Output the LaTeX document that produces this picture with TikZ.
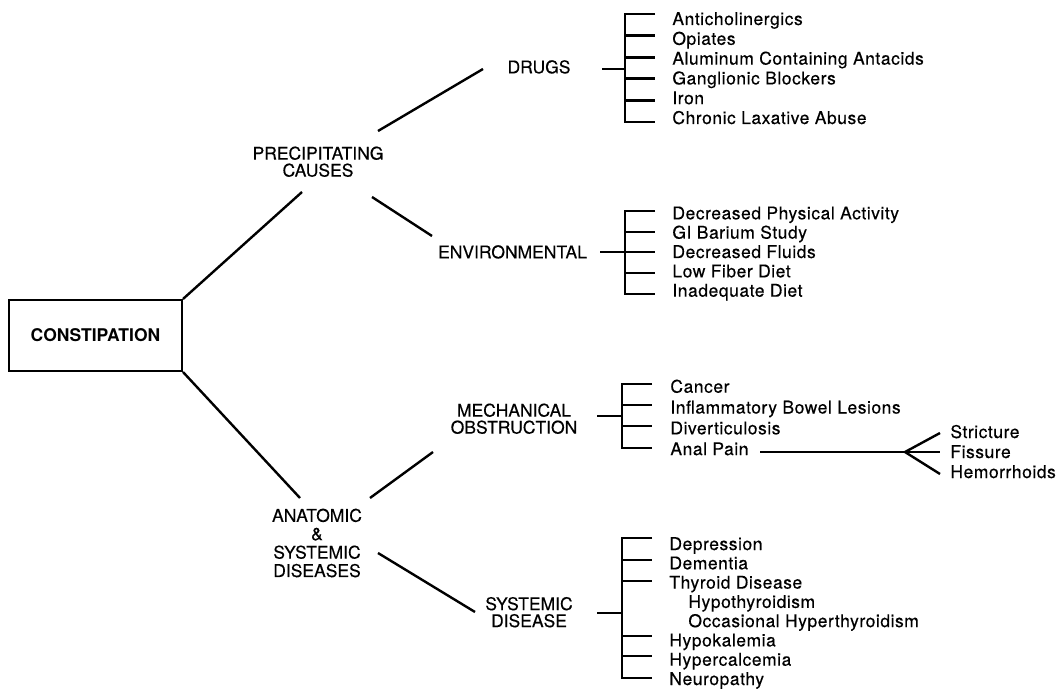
\documentclass[tikz,border=0pt]{standalone}
\usepackage{fontspec}
\setmainfont[FakeBold=0.35]{TeX Gyre Heros}
\newfontfamily\itemfont[LetterSpace=3,FakeBold=0.35]{TeX Gyre Heros}
\newfontfamily\rootfont{TeX Gyre Heros Bold}
\begin{document}
\begin{tikzpicture}[x=0.5pt,y=-0.5pt,
  lbl/.style={inner sep=0pt, align=center, font=\fontsize{8.75pt}{8.5pt}\selectfont},
  itm/.style={inner sep=0pt, anchor=base west, font=\itemfont\fontsize{8.75pt}{10pt}\selectfont},
  link/.style={line width=1.2pt},
  brk/.style={line width=1.4pt},
]
\useasboundingbox (0,0) rectangle (1059,689);

% root box
\node[draw, line width=1pt, inner sep=0pt, minimum width=86.5pt, minimum height=35.5pt,
      font=\rootfont\fontsize{8.75pt}{10pt}\selectfont] (con) at (95.5,335.5) {CONSTIPATION};

% category labels
\node[lbl] (pc) at (318,161.7) {PRECIPITATING\\CAUSES};
\node[lbl, font=\fontsize{8.75pt}{9.2pt}\selectfont] (anat) at (317,543) {ANATOMIC\\\&\\SYSTEMIC\\DISEASES};
\node[lbl, anchor=base] (drugs) at (539,73.3) {DRUGS};
\node[lbl, anchor=base] (env) at (512.5,258.3) {ENVIRONMENTAL};
\node[lbl] (mech) at (514,418.7) {MECHANICAL\\OBSTRUCTION};
\node[lbl] (sysd) at (529,612.2) {SYSTEMIC\\DISEASE};

% free ends of the branch lines
\coordinate (pc-sw) at (302,192);
\coordinate (pc-ne) at (378,131);
\coordinate (pc-se) at (372,197);
\coordinate (drugs-sw) at (483,69);
\coordinate (env-nw) at (432,236);
\coordinate (an-nw) at (300,498);
\coordinate (an-ne) at (370,498);
\coordinate (an-se) at (378,553);
\coordinate (mech-sw) at (433,452);
\coordinate (sys-nw) at (475,612);

\draw[link] (con.north east) -- (pc-sw);
\draw[link] (con.south east) -- (an-nw);
\draw[link] (pc-ne) -- (drugs-sw);
\draw[link] (pc-se) -- (env-nw);
\draw[link] (an-ne) -- (mech-sw);
\draw[link] (an-se) -- (sys-nw);

% DRUGS bracket
\draw[brk] (602,69) -- (625,69);
\draw[brk] (655,14) -- (625,14) -- (625,122) -- (655,122);
\foreach \y in {35.6,57.2,78.8,100.4} \draw[brk] (625,\y) -- (655,\y);
\foreach \t [count=\i] in {Anticholinergics, Opiates, Aluminum Containing Antacids,
    Ganglionic Blockers, Iron, Chronic Laxative Abuse}
  \node[itm] (drug\i) at (672,{25+19.8*(\i-1)}) {\t};

% ENVIRONMENTAL bracket
\draw[brk] (600,252) -- (655,252);
\draw[brk] (655,211) -- (625,211) -- (625,294) -- (655,294);
\foreach \y in {232,273} \draw[brk] (625,\y) -- (655,\y);
\foreach \t [count=\i] in {Decreased Physical Activity, GI Barium Study, Decreased Fluids,
    Low Fiber Diet, Inadequate Diet}
  \node[itm] (env\i) at (672,{219.3+19.35*(\i-1)}) {\t};

% MECHANICAL OBSTRUCTION bracket
\draw[brk] (597,416) -- (622,416);
\draw[brk] (652,384) -- (622,384) -- (622,448) -- (652,448);
\foreach \y in {405,426} \draw[brk] (622,\y) -- (652,\y);
\foreach \t [count=\i] in {Cancer, Inflammatory Bowel Lesions, Diverticulosis, Anal Pain}
  \node[itm] (mech\i) at (670,{392.7+20.8*(\i-1)}) {\t};

% Anal Pain fork
\coordinate (pain-e) at (760,452);
\coordinate (fork) at (905,452);
\node[itm] (str) at (950,438) {Stricture};
\node[itm] (fis) at (950,458) {Fissure};
\node[itm] (hem) at (950,478) {Hemorrhoids};
\draw[link] (pain-e) -- (fork);
\draw[link] (fork) -- (940,433);
\draw[link] (fork) -- (940,452);
\draw[link] (fork) -- (940,474);

% SYSTEMIC DISEASE bracket
\draw[brk] (597,613) -- (622,613);
\draw[brk] (652,538) -- (622,538) -- (622,678) -- (652,678);
\foreach \y in {560,581,636,656} \draw[brk] (622,\y) -- (652,\y);
\node[itm] (sys1) at (669,550) {Depression};
\node[itm] (sys2) at (669,569.3) {Dementia};
\node[itm] (sys3) at (669,588.6) {Thyroid Disease};
\node[itm] (sys4) at (688,607.9) {Hypothyroidism};
\node[itm] (sys5) at (688,627.1) {Occasional Hyperthyroidism};
\node[itm] (sys6) at (669,646.4) {Hypokalemia};
\node[itm] (sys7) at (669,665.7) {Hypercalcemia};
\node[itm] (sys8) at (669,685) {Neuropathy};
\end{tikzpicture}
\end{document}
